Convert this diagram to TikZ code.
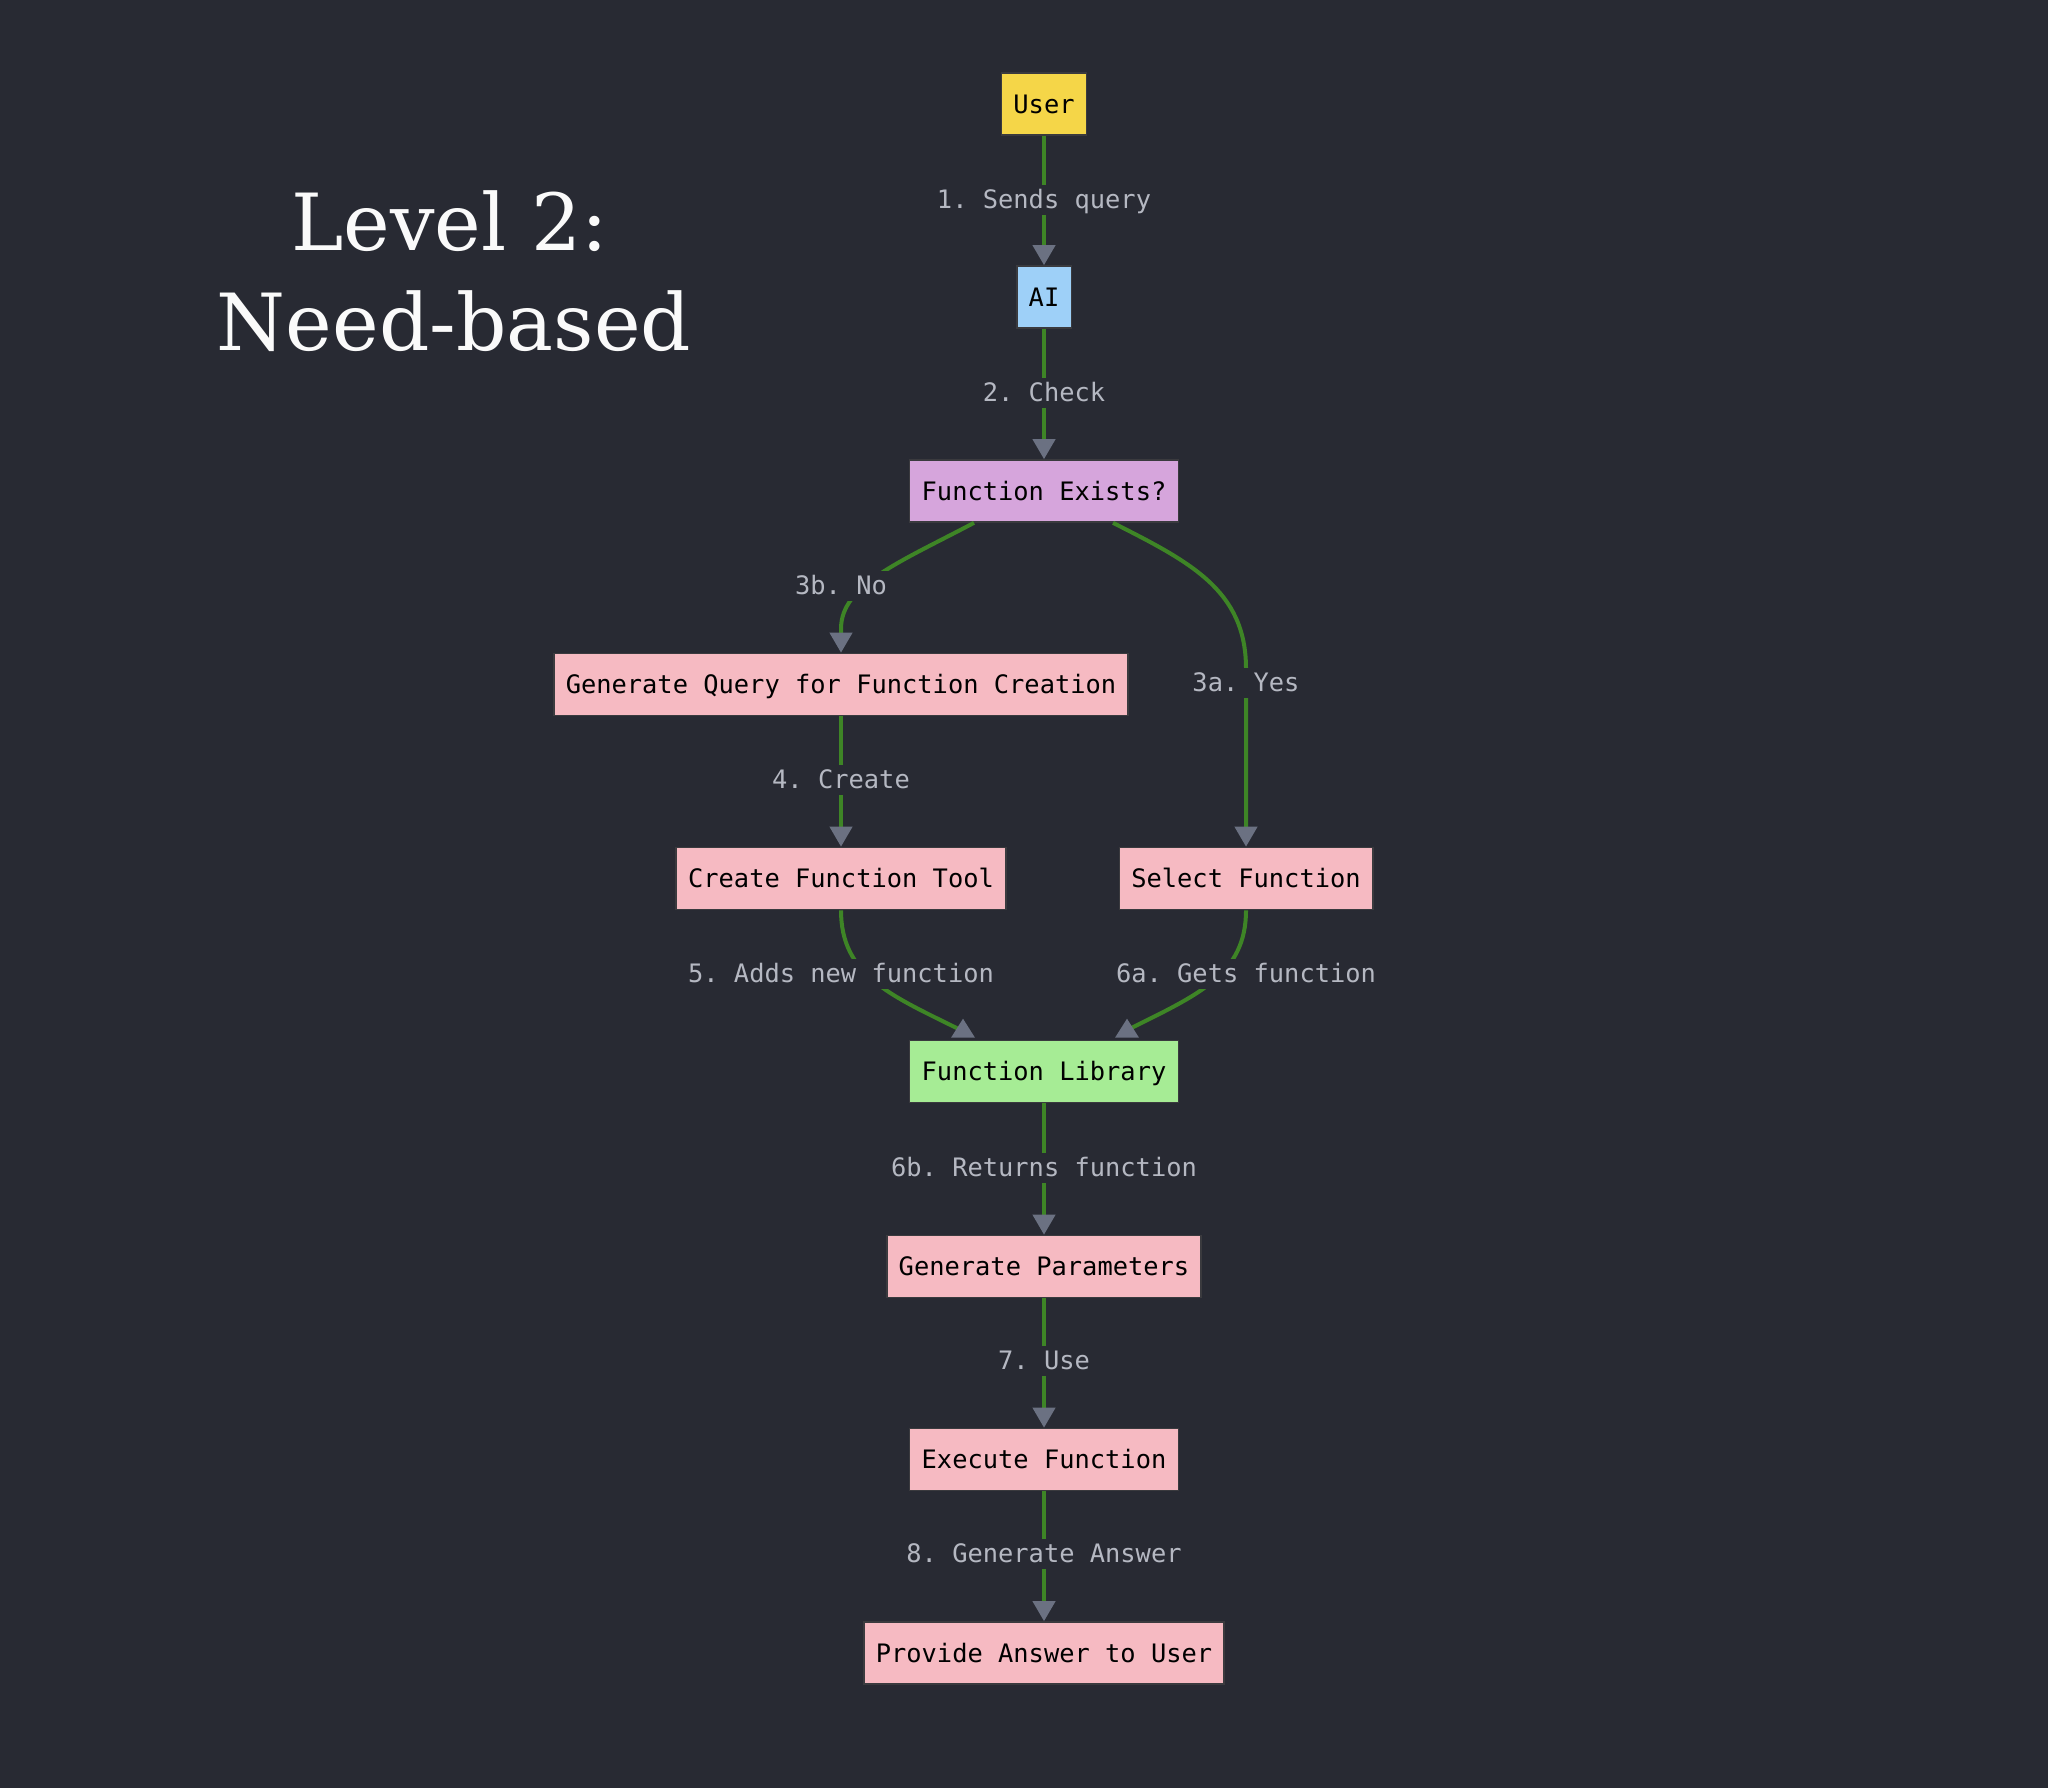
\documentclass[tikz,border=0pt]{standalone}
\usepackage{fontspec}
\newfontfamily\monofont{DejaVu Sans Mono}
\newfontfamily\titlefont{DejaVu Serif}
\usetikzlibrary{arrows.meta,calc}
\frenchspacing
\definecolor{bgc}{RGB}{40,42,51}
\definecolor{boxline}{RGB}{58,58,62}
\definecolor{edgec}{RGB}{62,133,38}
\definecolor{arrowc}{RGB}{107,113,130}
\definecolor{lblc}{RGB}{181,184,194}
\definecolor{userc}{RGB}{245,214,72}
\definecolor{aic}{RGB}{158,208,248}
\definecolor{fec}{RGB}{214,165,220}
\definecolor{pinkc}{RGB}{246,186,194}
\definecolor{libc}{RGB}{166,236,149}
\definecolor{titlec}{RGB}{250,250,250}
\begin{document}
\begin{tikzpicture}[x=0.5pt,y=-0.5pt,
  box/.style={draw=boxline, line width=0.8pt, minimum height=31pt, inner xsep=6pt, inner ysep=0pt,
    text height=10.6pt, text depth=1.4pt, text=black, font=\monofont\fontsize{12.7}{15}\selectfont},
  lbl/.style={fill=bgc, text=lblc, inner xsep=1pt, inner ysep=1pt, text height=10.8pt, text depth=2.2pt,
    font=\monofont\fontsize{12.7}{15}\selectfont},
  flow/.style={draw=edgec, line width=2pt, -{Triangle[width=11pt,length=10pt,color=arrowc,fill=arrowc]}},
  flowplain/.style={draw=edgec, line width=2pt},
  titletext/.style={anchor=base, text=titlec, font=\titlefont\fontsize{39.4}{49.5}\selectfont}
]
\fill[bgc] (0,0) rectangle (2048,1788);
\useasboundingbox (0,0) rectangle (2048,1788);

% title
\node[titletext] (t1) at (450,250) {Level 2:};
\node[titletext] (t2) at (454,350) {Need-based};

% nodes
\node[box, fill=userc] (user) at (1044,104) {User};
\node[box, fill=aic] (ai) at (1044,297) {AI};
\node[box, fill=fec] (fe) at (1044,491) {Function Exists?};
\node[box, fill=pinkc] (gq) at (841,684.5) {Generate Query for Function Creation};
\node[box, fill=pinkc] (cft) at (841,878.5) {Create Function Tool};
\node[box, fill=pinkc] (sf) at (1246,878.5) {Select Function};
\node[box, fill=libc] (lib) at (1044,1071.5) {Function Library};
\node[box, fill=pinkc] (gp) at (1044,1266.5) {Generate Parameters};
\node[box, fill=pinkc] (ef) at (1044,1459.5) {Execute Function};
\node[box, fill=pinkc] (pa) at (1044,1653) {Provide Answer to User};

% edges
\draw[flow] (user) -- (ai);
\draw[flow] (ai) -- (fe);
\draw[flow] ($(fe.south)+(-70,0)$) .. controls (900,562) and (841,585) .. ($(gq.north)+(0,-24)$) -- (gq.north);
\draw[flow] ($(fe.south)+(69,0)$) .. controls (1190,562) and (1246,590) .. ($(sf.north)+(0,-178)$) -- (sf.north);
\draw[flow] (gq) -- (cft);
\draw[flowplain] (cft.south) .. controls (841,975) and (890,995) .. ($(lib.north)+(-86,-11)$) coordinate (e5);
\draw[flowplain] (sf.south) .. controls (1246,975) and (1197,995) .. ($(lib.north)+(86,-11)$) coordinate (e6);
\fill[arrowc] ($(lib.north)+(-81,-21)$) -- ($(lib.north)+(-93,-2)$) -- ($(lib.north)+(-69,-2)$) -- cycle;
\fill[arrowc] ($(lib.north)+(83,-21)$) -- ($(lib.north)+(71,-2)$) -- ($(lib.north)+(95,-2)$) -- cycle;
\draw[flow] (lib) -- (gp);
\draw[flow] (gp) -- (ef);
\draw[flow] (ef) -- (pa);

% labels
\node[lbl] (l1) at (1044,200) {1. Sends query};
\node[lbl] (l2) at (1044,393) {2. Check};
\node[lbl] (l3b) at (841,586) {3b. No};
\node[lbl] (l3a) at (1246,683) {3a. Yes};
\node[lbl] (l4) at (841,780) {4. Create};
\node[lbl] (l5) at (841,974) {5. Adds new function};
\node[lbl] (l6a) at (1246,974) {6a. Gets function};
\node[lbl] (l6b) at (1044,1168) {6b. Returns function};
\node[lbl] (l7) at (1044,1361) {7. Use};
\node[lbl] (l8) at (1044,1554) {8. Generate Answer};
\end{tikzpicture}
\end{document}
